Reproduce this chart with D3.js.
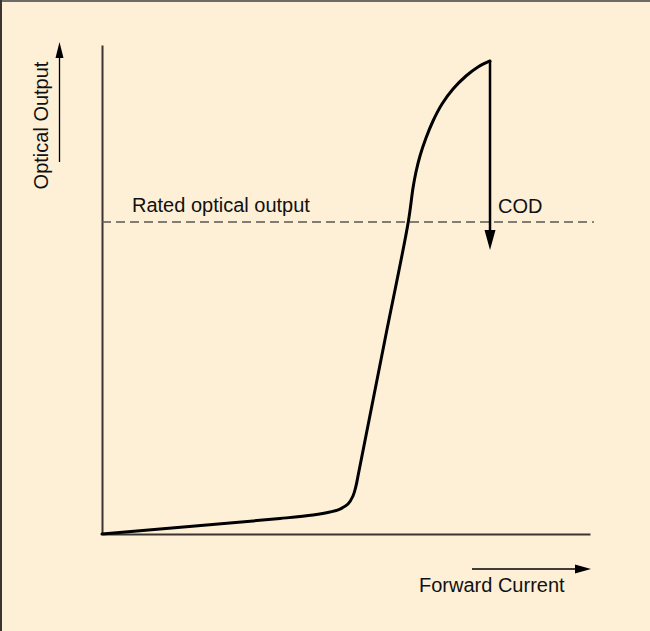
<!DOCTYPE html>
<html>
<head>
<meta charset="utf-8">
<script src="https://cdn.jsdelivr.net/npm/d3@7"></script>
<style>
  html, body { margin: 0; padding: 0; background: #fdf0d6; }
  svg { display: block; }
  text { font-family: "Liberation Sans", Arial, Helvetica, sans-serif; fill: #111; }
</style>
</head>
<body>
<svg id="chart" width="650" height="631"></svg>
<script>
// ---- data (arbitrary units, 0..100 on both axes) ----
const currentValues = [0, 36.48, 43.24, 46.72, 48.77, 50.41, 51.43, 52.05, 52.46, 57.97, 62.77, 63.73, 64.34, 65.16, 66.39, 67.83, 69.67, 71.93, 74.59, 77.05, 79.51];
const outputValues  = [0, 3.17, 3.89, 4.50, 5.11, 6.13, 7.77, 9.82, 11.86, 39.67, 63.87, 70.76, 74.03, 77.30, 80.98, 84.46, 87.93, 91.00, 93.66, 95.50, 96.73];
const ratedOutput = 63.8;
const dashEnd = 100.8;
const codPoint = [79.51, 96.73];
const codArrowEnd = 58.1;
const labels = {
  rated: "Rated optical output",
  cod: "COD",
  xTitle: "Forward Current",
  yTitle: "Optical Output"
};

const W = 650, H = 631;
const svg = d3.select("#chart");

svg.append("rect").attr("x", 0).attr("y", 0).attr("width", W).attr("height", H).attr("fill", "#fdf0d6");
svg.append("line").attr("x1", 0).attr("x2", W).attr("y1", 1).attr("y2", 1).attr("stroke", "#6b6b6b").attr("stroke-width", 2);
svg.append("line").attr("x1", 1).attr("x2", 1).attr("y1", 0).attr("y2", H).attr("stroke", "#3a3530").attr("stroke-width", 2);

const x = d3.scaleLinear().domain([0, 100]).range([102, 590]);
const y = d3.scaleLinear().domain([0, 100]).range([534, 45]);

// axes (no ticks)
const xAxis = svg.append("g").attr("transform", `translate(0,${y(0)})`)
  .call(d3.axisBottom(x).tickValues([]).tickSizeOuter(0));
const yAxis = svg.append("g").attr("transform", `translate(${x(0)},0)`)
  .call(d3.axisLeft(y).tickValues([]).tickSizeOuter(0));
[xAxis, yAxis].forEach(g => g.select(".domain").attr("stroke", "#3a3530").attr("stroke-width", 2));

// rated optical output dashed line
svg.append("line")
  .attr("x1", x(0)).attr("x2", x(dashEnd))
  .attr("y1", y(ratedOutput)).attr("y2", y(ratedOutput))
  .attr("stroke", "#5a5550").attr("stroke-width", 1.4)
  .attr("stroke-dasharray", "9,5");

svg.append("text").attr("x", 132).attr("y", y(ratedOutput) - 10)
  .attr("font-size", 20).text(labels.rated);

// L-I curve
const pts = currentValues.map((c, i) => [c, outputValues[i]]);
const line = d3.line().x(d => x(d[0])).y(d => y(d[1])).curve(d3.curveCatmullRom.alpha(0.5));
svg.append("path").datum(pts).attr("d", line)
  .attr("fill", "none").attr("stroke", "#000").attr("stroke-width", 3)
  .attr("stroke-linejoin", "round").attr("stroke-linecap", "round");

// COD arrow
const cx = x(codPoint[0]);
const cyTop = y(codPoint[1]);
const cyTip = y(codArrowEnd);
svg.append("line").attr("x1", cx).attr("x2", cx).attr("y1", cyTop).attr("y2", cyTip - 18)
  .attr("stroke", "#000").attr("stroke-width", 2.5);
svg.append("path")
  .attr("d", `M${cx - 5.5},${cyTip - 20}L${cx + 5.5},${cyTip - 20}L${cx},${cyTip}Z`)
  .attr("fill", "#000");
svg.append("text").attr("x", cx + 8).attr("y", y(ratedOutput) - 9)
  .attr("font-size", 20).text(labels.cod);

// X axis title with arrow
svg.append("line").attr("x1", 472).attr("x2", 576).attr("y1", 569).attr("y2", 569)
  .attr("stroke", "#000").attr("stroke-width", 1.3);
svg.append("path").attr("d", "M575,564.5L591,569L575,573.5Z").attr("fill", "#000");
svg.append("text").attr("x", 419).attr("y", 592).attr("font-size", 20).text(labels.xTitle);

// Y axis title with arrow
svg.append("line").attr("x1", 59.5).attr("x2", 59.5).attr("y1", 162).attr("y2", 56)
  .attr("stroke", "#000").attr("stroke-width", 1.3);
svg.append("path").attr("d", "M55.5,58L59.5,42L63.5,58Z").attr("fill", "#000");
svg.append("text")
  .attr("transform", "translate(48,125.5) rotate(-90)")
  .attr("text-anchor", "middle").attr("font-size", 20).text(labels.yTitle);
</script>
</body>
</html>
